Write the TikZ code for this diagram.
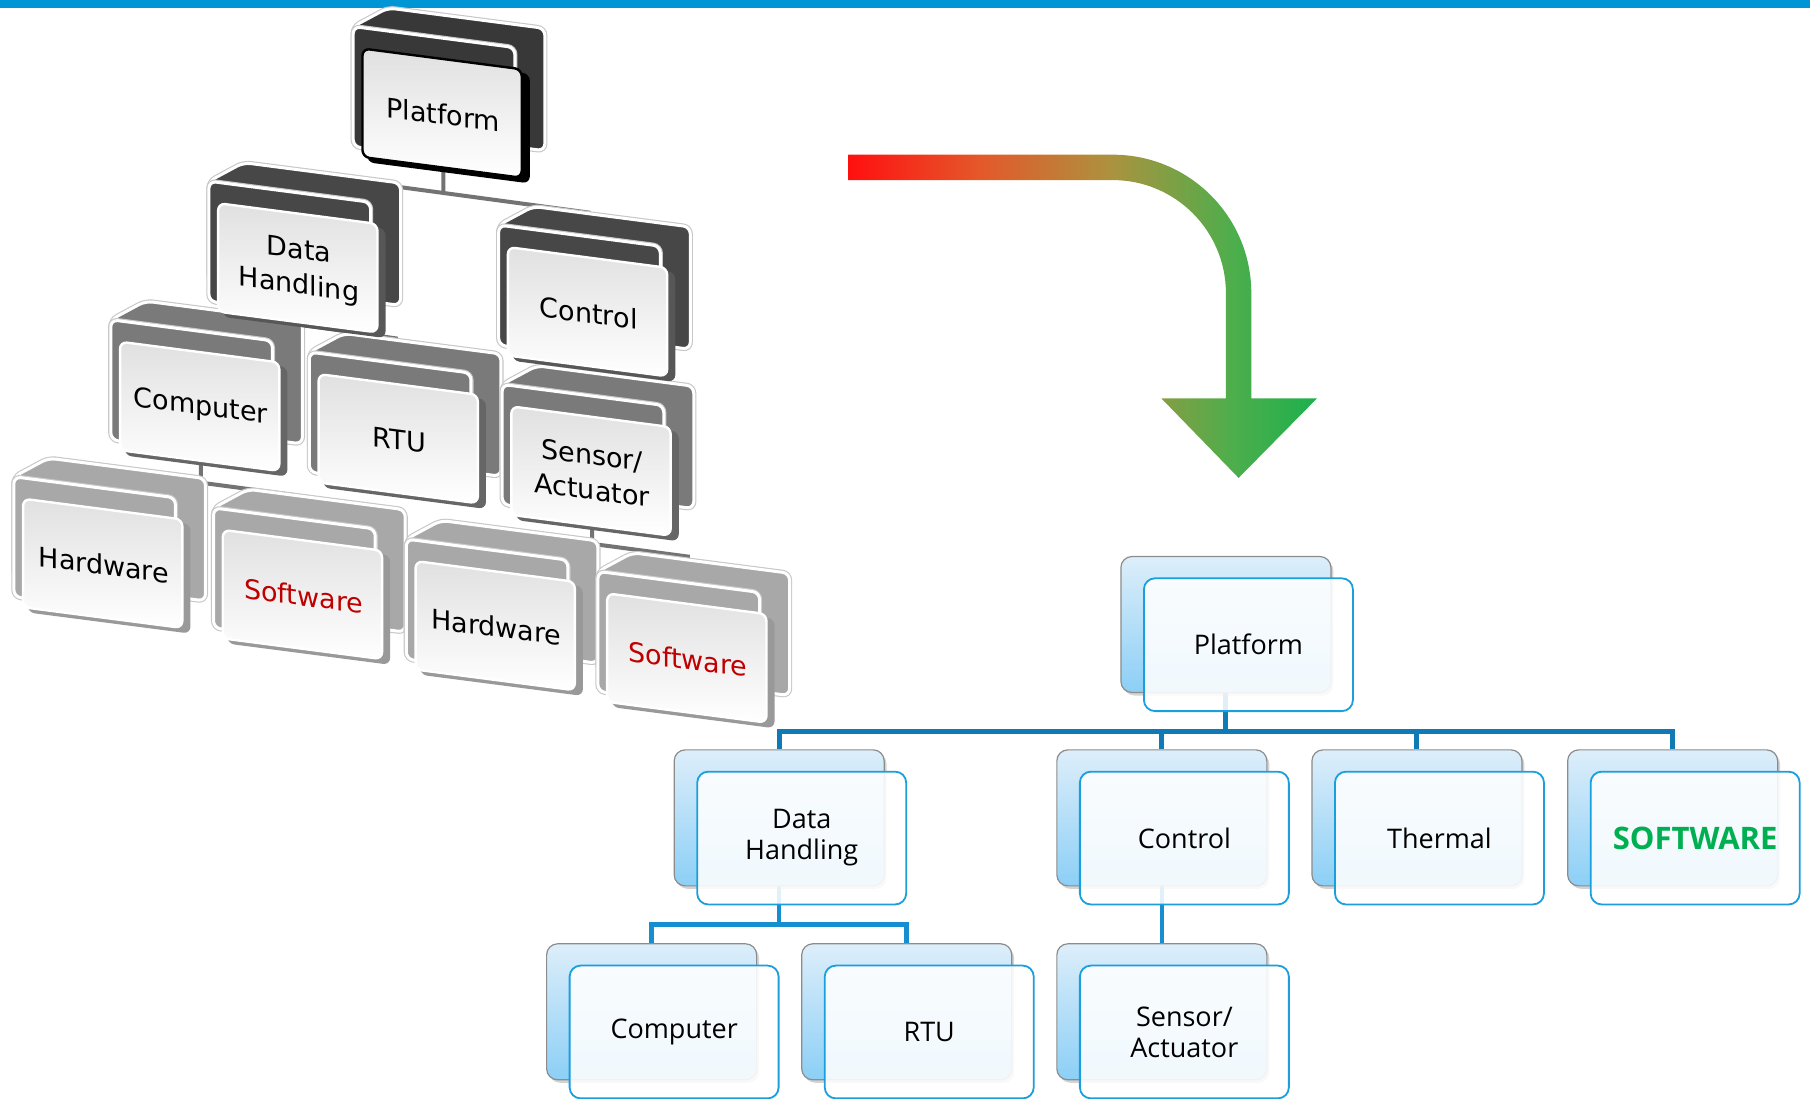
\documentclass[tikz,border=0pt]{standalone}
\usepackage{fontspec}
\usepackage{xcolor}
\usepackage{tikz}
\usetikzlibrary{calc,shadows,backgrounds}
\newfontfamily\lfont{DejaVu Sans}
\newfontfamily\rfont{Open Sans}
\definecolor{topbar}{HTML}{0096D6}
\definecolor{swred}{HTML}{C00000}
\definecolor{swgreen}{HTML}{00B050}
\definecolor{busblue}{HTML}{0F7AB5}
\definecolor{subblue}{HTML}{168ECF}
\definecolor{frontblue}{HTML}{1A9FDD}
\definecolor{backtop}{HTML}{DDEEFA}
\definecolor{backbottom}{HTML}{8CCFF6}
\definecolor{arrowred}{HTML}{FF1010}
\definecolor{arroworange}{HTML}{E4582A}
\definecolor{arrowmid}{HTML}{AC923F}
\definecolor{arrowleaf}{HTML}{4DAE4C}
\definecolor{arrowgreen}{HTML}{1CB04C}
\pgfdeclarehorizontalshading{turnarrow}{100bp}{color(0bp)=(arrowred); color(25bp)=(arrowred);
  color(39bp)=(arroworange); color(53bp)=(arrowmid); color(66bp)=(arrowleaf);
  color(75bp)=(arrowgreen); color(100bp)=(arrowgreen)}
\tikzset{
  lslab/.style={rounded corners=3.5pt,draw=white,line width=1.5pt,preaction={draw=black!22,line width=2.6pt}},
  lface/.style={rounded corners=3.5pt,top color=black!12,bottom color=white,line width=1.2pt},
  ltext/.style={font=\lfont\fontsize{13.5}{17.5}\selectfont,align=center,inner sep=0pt,transform shape},
  lconn/.style={draw=black!55,line width=2pt},
  rback/.style={rounded corners=5.5pt,minimum width=105pt,minimum height=68pt,inner sep=0pt,
    top color=backtop,bottom color=backbottom,draw=black!45,line width=0.6pt,
    drop shadow={shadow xshift=1.2pt,shadow yshift=-1.5pt,opacity=0.35}},
  rfront/.style={rounded corners=5.5pt,minimum width=104.5pt,minimum height=66.4pt,inner sep=0pt,
    fill=white,fill opacity=0.88,text opacity=1,draw=frontblue,line width=0.9pt,
    font=\rfont\fontsize{13.5}{15.5}\selectfont,align=center},
  rbus/.style={draw=busblue,line width=2.5pt},
  rsub/.style={draw=subblue,line width=2.3pt}
}
% tilted card of the old tree
\newcommand{\lcard}[7]{%
  \begin{scope}[shift={#2},yslant=-0.13]
    \draw[lslab,fill=#4] (0,0) -- (30,-20) -- (166,-20) -- (166,86) -- (0,86) -- cycle;
    \draw[lslab,fill=#4] (0,0) -- (140,0) -- (140,104) -- (0,104) -- cycle;
    \fill[#5,rounded corners=3.5pt] (12,21) -- (153,21) -- (153,116) -- (12,116) -- cycle;
    \draw[lface,draw=#7] (8,18) -- (146,18) -- (146,112) -- (8,112) -- cycle;
    \node[ltext,text=#6] (#1) at (78,66) {#3};
  \end{scope}}
% flat card of the new tree
\newcommand{\rcard}[3]{%
  \node[rback] (#1b) at (#2) {};
  \node[rfront] (#1) at ([shift={(19.5,17.5)}]#2) {#3};}

\begin{document}
\begin{tikzpicture}[x=0.5772pt,y=-0.5772pt]
  \useasboundingbox (0,0) rectangle (1568,952);
  \fill[topbar] (0,0) rectangle (1568,6.5);

  % old tree, bottom row first
  \lcard{lhwa}{(12,413)}{Hardware}{black!34}{black!40}{black}{white}
  \lcard{lswa}{(185,440)}{Software}{black!34}{black!40}{swred}{white}
  \lcard{lhwb}{(352,467)}{Hardware}{black!34}{black!40}{black}{white}
  \lcard{lswb}{(518,495)}{Software}{black!34}{black!40}{swred}{white}
  \lcard{lcomp}{(96,277)}{Computer}{black!52}{black!60}{black}{white}
  \lcard{lrtu}{(268,305)}{RTU}{black!52}{black!60}{black}{white}
  \lcard{lsens}{(435,333)}{Sensor/\\Actuator}{black!52}{black!60}{black}{white}
  \lcard{ldh}{(181,157)}{Data\\Handling}{black!72}{black!66}{black}{white}
  \lcard{lctl}{(432,195)}{Control}{black!72}{black!66}{black}{white}
  \lcard{lplat}{(306,23)}{Platform}{black!78}{black}{black}{black}

  \begin{pgfonlayer}{background}
    \draw[lconn] (lplat.center) -- ++(0,68) coordinate (lbusa) -- ++(-126,-17) -- (ldh.center);
    \draw[lconn] (lbusa) -- ++(126,17) -- (lctl.center);
    \draw[lconn] (ldh.center) -- ++(0,48) coordinate (lbusb) -- ++(-83,-12) -- (lcomp.center);
    \draw[lconn] (lbusb) -- ++(84,12) -- (lrtu.center);
    \draw[lconn] (lctl.center) -- (lsens.center);
    \draw[lconn] (lcomp.center) -- ++(0,65) coordinate (lbusc) -- ++(-85,-11) -- (lhwa.center);
    \draw[lconn] (lbusc) -- ++(83,11) -- (lswa.center);
    \draw[lconn] (lsens.center) -- ++(0,62) coordinate (lbusd) -- ++(-84,-11) -- (lhwb.center);
    \draw[lconn] (lbusd) -- ++(83,11) -- (lswb.center);
  \end{pgfonlayer}

  % turning arrow
  \shade[shading=turnarrow]
    (735,134) -- (964,134) .. controls (1030.3,134) and (1084,187.7) .. (1084,254)
    -- (1084,345) -- (1141,345) -- (1073,414) -- (1006,345) -- (1062,345) -- (1062,254)
    .. controls (1062,199.9) and (1018.1,156) .. (964,156) -- (735,156) -- cycle;

  % new tree
  \rcard{rplat}{1062,541}{Platform}
  \rcard{rdh}{675,708.5}{Data\\Handling}
  \rcard{rctl}{1006.5,708.5}{Control}
  \rcard{rthm}{1227.5,708.5}{Thermal}
  \rcard{rsw}{1449,708.5}{\textcolor{swgreen}{\bfseries\fontsize{15.5}{17}\selectfont SOFTWARE}}
  \rcard{rcomp}{564.5,876.5}{Computer}
  \rcard{rrtu}{785.5,876.5}{RTU}
  \rcard{rsens}{1006.5,876.5}{Sensor/\\Actuator}

  \begin{pgfonlayer}{background}
    \draw[rbus] (rplatb.south) -- ++(0,33) -| (rdhb.north);
    \draw[rbus] (rplatb.south) -- ++(0,33) -| (rctlb.north);
    \draw[rbus] (rplatb.south) -- ++(0,33) -| (rthmb.north);
    \draw[rbus] (rplatb.south) -- ++(0,33) -| (rswb.north);
    \draw[rsub] (rdhb.south) -- ++(0,33) -| (rcompb.north);
    \draw[rsub] (rdhb.south) -- ++(0,33) -| (rrtub.north);
    \draw[rsub] (rctlb.south) -- (rsensb.north);
  \end{pgfonlayer}
\end{tikzpicture}
\end{document}
